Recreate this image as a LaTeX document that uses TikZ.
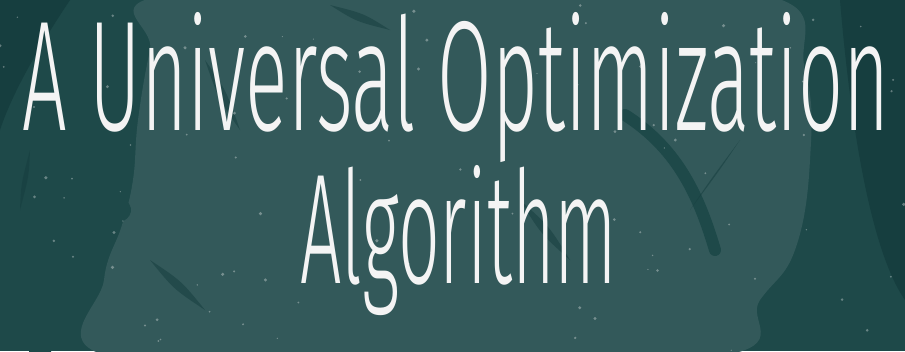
\documentclass[tikz,border=0pt]{standalone}
\usepackage{fontspec}
\setmainfont{Fira Sans}[UprightFont=* Light]
\usetikzlibrary{calc}
\definecolor{boardbg}{HTML}{1E4949}
\definecolor{boardlite}{HTML}{33595A}
\definecolor{boarddark}{HTML}{163E3F}
\definecolor{chalk}{HTML}{F4F4F4}
\tikzset{
  scratch/.style={fill=boarddark,opacity=.55},
  speck/.style={fill=chalk,opacity=.35},
  titletext/.style={inner sep=0pt,outer sep=0pt,text=chalk,anchor=base west}
}
\begin{document}
\begin{tikzpicture}[x=1pt,y=-1pt]
\clip (0,0) rectangle (905,351);
\fill[boardbg] (0,0) rectangle (905,351);
\fill[boarddark] (0,0) -- (70,0) .. controls (30,60) and (10,100) .. (0,130) -- cycle;
\fill[boarddark] (905,0) -- (840,0) .. controls (850,120) and (870,250) .. (905,300) -- cycle;
% light scribble blob
\fill[boardlite] plot[smooth cycle,tension=.7] coordinates {
  (165,-5) (480,-5) (765,-5) (805,70) (810,160) (795,250)
  (760,300) (720,356) (400,356) (108,356) (104,280) (122,225)
  (133,180) (138,120) (150,50)};
\draw[boardbg,line width=22pt,line cap=round] (120,210) .. controls (60,250) and (50,300) .. (40,351);
\draw[boardbg,line width=12pt,line cap=round] (625,115) .. controls (680,150) and (700,200) .. (715,250);
% dark scratches
\path (205,60) coordinate(s1) (240,130) coordinate(s2)
  (330,5) coordinate(s3) (390,30) coordinate(s4)
  (520,200) coordinate(s5) (570,260) coordinate(s6)
  (150,260) coordinate(s7) (205,310) coordinate(s8)
  (690,210) coordinate(s9) (740,140) coordinate(s10)
  (30,150) coordinate(s11) (20,210) coordinate(s12);
\foreach \a/\b in {s1/s2,s3/s4,s5/s6,s7/s8,s9/s10,s11/s12}
  \fill[scratch] (\a) .. controls ($(\a)!.5!(\b)+(4,-4)$) .. (\b)
    .. controls ($(\a)!.5!(\b)+(-4,4)$) .. (\a);
% chalk specks
\pgfmathsetseed{7}
\foreach \i in {1,...,90}{
  \pgfmathsetmacro{\sx}{905*rnd}
  \pgfmathsetmacro{\sy}{351*rnd}
  \pgfmathsetmacro{\sr}{0.6+1.2*rnd}
  \fill[speck] (\sx,\sy) circle (\sr);
}
\node[titletext] (title1) at (23,130) {\resizebox{866pt}{118pt}{A Universal Optimization}};
\node[titletext] (title2) at (300,283) {\resizebox{317pt}{118pt}{Algorithm}};
\end{tikzpicture}
\end{document}
